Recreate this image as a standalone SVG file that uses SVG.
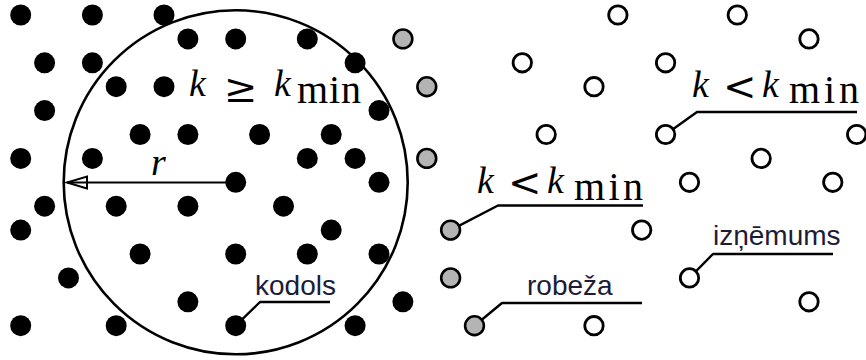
<svg xmlns="http://www.w3.org/2000/svg" width="866" height="360" viewBox="0 0 866 360">
<style>
.core{fill:#000}
.border{fill:#b4b4b4;stroke:#000;stroke-width:2.6}
.noise{fill:#fff;stroke:#000;stroke-width:2.8}
.lead{fill:none;stroke:#000;stroke-width:2.4;stroke-linejoin:round}
.math{font-family:"Liberation Serif","Times New Roman",serif;fill:#000}
.mi{font-style:italic;font-size:38px}
.op{font-family:"DejaVu Serif","Liberation Serif",serif;font-size:40px}
.sub{font-size:40px}
.lbl{font-family:"Liberation Sans",Arial,sans-serif;font-size:28px;fill:#1c1c38}
</style>
<defs>
<marker id="ah" markerUnits="userSpaceOnUse" markerWidth="24" markerHeight="16" refX="21" refY="7" orient="auto" overflow="visible">
<path d="M1,1 L21,7 L1,13 Z" fill="none" stroke="#000" stroke-width="2"/>
</marker>
</defs>
<rect width="866" height="360" fill="#fff"/>
<g id="region-circle">
<circle cx="235.7" cy="182.3" r="172" fill="none" stroke="#000" stroke-width="2.6"/>
</g>
<g id="connectors">
<line x1="235.7" y1="182.5" x2="67" y2="182.5" stroke="#000" stroke-width="2" marker-end="url(#ah)"/>
<polyline class="lead" points="235.7,325.7 260,302 330,302"/>
<polyline class="lead" points="474.5,325.7 502,303 642,303"/>
<polyline class="lead" points="450.6,230.1 498,205.5 643,205.5"/>
<polyline class="lead" points="665.6,134.5 697,112 857,112"/>
<polyline class="lead" points="689.5,277.9 713,254 833,254"/>
</g>
<g id="core-points">
<circle class="core" cx="20.7" cy="15" r="10.5"/>
<circle class="core" cx="92.4" cy="15" r="10.5"/>
<circle class="core" cx="164" cy="15" r="10.5"/>
<circle class="core" cx="187.9" cy="38.9" r="10.5"/>
<circle class="core" cx="235.7" cy="38.9" r="10.5"/>
<circle class="core" cx="307.3" cy="38.9" r="10.5"/>
<circle class="core" cx="44.6" cy="62.8" r="10.5"/>
<circle class="core" cx="92.4" cy="62.8" r="10.5"/>
<circle class="core" cx="355.1" cy="62.8" r="10.5"/>
<circle class="core" cx="116.2" cy="86.7" r="10.5"/>
<circle class="core" cx="164" cy="86.7" r="10.5"/>
<circle class="core" cx="44.6" cy="110.6" r="10.5"/>
<circle class="core" cx="379" cy="110.6" r="10.5"/>
<circle class="core" cx="140.1" cy="134.5" r="10.5"/>
<circle class="core" cx="187.9" cy="134.5" r="10.5"/>
<circle class="core" cx="259.6" cy="134.5" r="10.5"/>
<circle class="core" cx="331.2" cy="134.5" r="10.5"/>
<circle class="core" cx="20.7" cy="158.4" r="10.5"/>
<circle class="core" cx="92.4" cy="158.4" r="10.5"/>
<circle class="core" cx="307.3" cy="158.4" r="10.5"/>
<circle class="core" cx="355.1" cy="158.4" r="10.5"/>
<circle class="core" cx="235.7" cy="182.3" r="10.5"/>
<circle class="core" cx="379" cy="182.3" r="10.5"/>
<circle class="core" cx="44.6" cy="206.2" r="10.5"/>
<circle class="core" cx="116.2" cy="206.2" r="10.5"/>
<circle class="core" cx="187.9" cy="206.2" r="10.5"/>
<circle class="core" cx="283.5" cy="206.2" r="10.5"/>
<circle class="core" cx="20.7" cy="230.1" r="10.5"/>
<circle class="core" cx="331.2" cy="230.1" r="10.5"/>
<circle class="core" cx="140.1" cy="254" r="10.5"/>
<circle class="core" cx="235.7" cy="254" r="10.5"/>
<circle class="core" cx="307.3" cy="254" r="10.5"/>
<circle class="core" cx="379" cy="254" r="10.5"/>
<circle class="core" cx="68.5" cy="277.9" r="10.5"/>
<circle class="core" cx="187.9" cy="301.8" r="10.5"/>
<circle class="core" cx="402.9" cy="301.8" r="10.5"/>
<circle class="core" cx="20.7" cy="325.7" r="10.5"/>
<circle class="core" cx="116.2" cy="325.7" r="10.5"/>
<circle class="core" cx="235.7" cy="325.7" r="10.5"/>
<circle class="core" cx="355.1" cy="325.7" r="10.5"/>
</g>
<g id="border-points">
<circle class="border" cx="402.9" cy="38.9" r="9.4"/>
<circle class="border" cx="426.8" cy="86.7" r="9.4"/>
<circle class="border" cx="426.8" cy="158.4" r="9.4"/>
<circle class="border" cx="450.6" cy="230.1" r="9.4"/>
<circle class="border" cx="450.6" cy="277.9" r="9.4"/>
<circle class="border" cx="474.5" cy="325.7" r="9.4"/>
</g>
<g id="noise-points">
<circle class="noise" cx="617.9" cy="15" r="9.2"/>
<circle class="noise" cx="737.3" cy="15" r="9.2"/>
<circle class="noise" cx="809" cy="38.9" r="9.2"/>
<circle class="noise" cx="522.3" cy="62.8" r="9.2"/>
<circle class="noise" cx="665.6" cy="62.8" r="9.2"/>
<circle class="noise" cx="594" cy="86.7" r="9.2"/>
<circle class="noise" cx="546.2" cy="134.5" r="9.2"/>
<circle class="noise" cx="665.6" cy="134.5" r="9.2"/>
<circle class="noise" cx="856.7" cy="134.5" r="9.2"/>
<circle class="noise" cx="761.2" cy="158.4" r="9.2"/>
<circle class="noise" cx="689.5" cy="182.3" r="9.2"/>
<circle class="noise" cx="832.8" cy="182.3" r="9.2"/>
<circle class="noise" cx="641.7" cy="230.1" r="9.2"/>
<circle class="noise" cx="689.5" cy="277.9" r="9.2"/>
<circle class="noise" cx="809" cy="301.8" r="9.2"/>
<circle class="noise" cx="594" cy="325.7" r="9.2"/>
</g>
<g id="label-core-region">
<text class="math mi" x="189" y="96">k</text>
<text class="math op" x="224" y="102">≥</text>
<text class="math mi" x="274" y="96">k</text>
<text class="math sub" x="297" y="103" textLength="64" lengthAdjust="spacing">min</text>
</g>
<g id="label-radius">
<text class="math mi" x="151" y="175">r</text>
</g>
<g id="label-noise-upper">
<text class="math mi" x="692" y="97">k</text>
<text class="math op" x="723" y="100">&lt;</text>
<text class="math mi" x="762" y="97">k</text>
<text class="math sub" x="789" y="103" textLength="70" lengthAdjust="spacing">min</text>
</g>
<g id="label-noise-lower">
<text class="math mi" x="477" y="193">k</text>
<text class="math op" x="508" y="196">&lt;</text>
<text class="math mi" x="547" y="193">k</text>
<text class="math sub" x="574" y="200" textLength="69" lengthAdjust="spacing">min</text>
</g>
<g id="label-kodols"><text class="lbl" x="255" y="295">kodols</text></g>
<g id="label-robeza"><text class="lbl" x="527" y="295">robeža</text></g>
<g id="label-iznemums"><text class="lbl" x="713" y="245">izņēmums</text></g>
</svg>
